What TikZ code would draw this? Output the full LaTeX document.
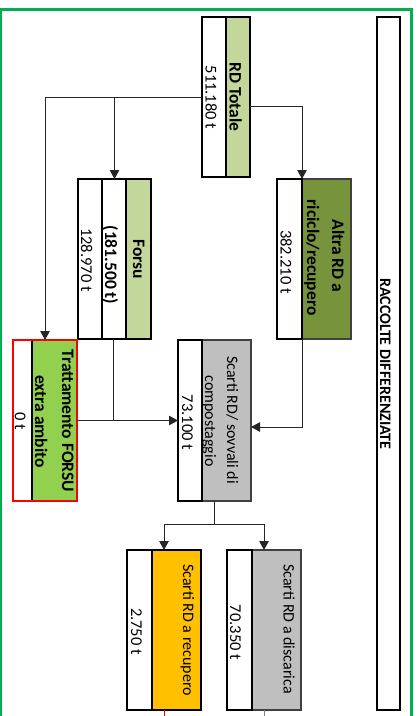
\documentclass[tikz,border=0pt]{standalone}
\usepackage{fontspec}
\setmainfont{Carlito}
\usetikzlibrary{arrows.meta,calc}
\definecolor{lgreen}{HTML}{C4D79B}
\definecolor{dgreen}{HTML}{77933C}
\definecolor{tgreen}{HTML}{92D050}
\definecolor{ambra}{HTML}{FFC000}
\definecolor{grigio}{HTML}{BFBFBF}
\definecolor{cornice}{HTML}{00B050}
\definecolor{bordo}{HTML}{404040}
\definecolor{linea}{HTML}{262626}
\begin{document}
\begin{tikzpicture}[x=1pt,y=-1pt,
  holder/.style={rectangle, inner sep=0pt, outer sep=0pt, anchor=north west, draw=none},
  cell/.style={rectangle, inner sep=0pt, outer sep=0pt, anchor=north west, line width=2pt},
  wcell/.style={cell, draw=black, fill=white},
  gcell/.style={cell, draw=bordo, line width=1.6pt},
  txt/.style={rotate=-90, anchor=base, inner sep=0pt, font=\fontsize{16}{20}\selectfont},
  ntxt/.style={txt, font=\fontsize{16.5}{20}\selectfont},
  btxt/.style={txt, font=\fontsize{17.5}{21}\selectfont\bfseries},
  conn/.style={draw=linea, line width=1pt},
  arr/.style={conn, -{Triangle[width=9.5pt,length=9pt]}},
]
\useasboundingbox (0,0) rectangle (419,716);
\fill[white] (0,0) rectangle (419,716);
\draw[cornice, line width=2.4pt] (1.2,716) -- (1.2,9.5) -- (411.5,9.5) -- (411.5,716);

% RACCOLTE DIFFERENZIATE
\node[wcell, minimum width=23pt, minimum height=693pt] (racc) at (377,17) {};
\node[btxt, font=\fontsize{16}{19}\selectfont\bfseries] (tRa) at (380,364) {RACCOLTE DIFFERENZIATE};

% RD Totale
\node[holder, minimum width=48pt, minimum height=160pt] (rdt) at (202,17) {};
\node[cell, draw=black, fill=lgreen, minimum width=24pt, minimum height=160pt] (rdtG) at (226,17) {};
\node[wcell, minimum width=24pt, minimum height=160pt] (rdtW) at (202,17) {};
\node[btxt] (tRD) at (229.5,97) {RD Totale};
\node[ntxt] (tRDv) at (205.5,97.5) {511.180 t};

% Forsu
\node[holder, minimum width=73pt, minimum height=160pt] (forsu) at (78,179) {};
\node[cell, draw=black, fill=lgreen, minimum width=25pt, minimum height=160pt] (forsuG) at (126,179) {};
\node[wcell, minimum width=24.5pt, minimum height=160pt] (forsuM) at (101.5,179) {};
\node[wcell, minimum width=23.5pt, minimum height=160pt] (forsuW) at (78,179) {};
\node[btxt] (tFo) at (133,259) {Forsu};
\node[btxt] (tFo2) at (105,265) {(181.500 t)};
\node[ntxt] (tFov) at (81,260) {128.970 t};

% Altra RD
\node[holder, minimum width=74pt, minimum height=160pt] (altra) at (277,179) {};
\node[gcell, fill=dgreen, minimum width=49pt, minimum height=160pt] (altraG) at (302,179) {};
\node[wcell, minimum width=25pt, minimum height=160pt] (altraW) at (277,179) {};
\node[btxt] (tAl1) at (332,256) {Altra RD a};
\node[btxt] (tAl2) at (307,257.5) {riciclo/recupero};
\node[ntxt] (tAlv) at (280.5,262) {382.210 t};

% Trattamento FORSU
\node[holder, minimum width=64pt, minimum height=161pt] (trat) at (13,340) {};
\node[cell, draw=none, fill=tgreen, minimum width=45pt, minimum height=161pt] (tratG) at (32,340) {};
\node[wcell, minimum width=19pt, minimum height=161pt] (tratW) at (13,340) {};
\draw[red, line width=2pt] (trat.north west) rectangle (trat.south east);
\node[btxt] (tTr1) at (62,421) {Trattamento FORSU};
\node[btxt] (tTr2) at (35,421.5) {extra ambito};
\node[ntxt] (tTrv) at (15,421.5) {0 t};

% Scarti RD / sovvali
\node[holder, minimum width=73pt, minimum height=161pt] (sov) at (178,340) {};
\node[gcell, fill=grigio, minimum width=49.5pt, minimum height=161pt] (sovG) at (201.5,340) {};
\node[wcell, minimum width=23.5pt, minimum height=161pt] (sovW) at (178,340) {};
\node[txt] (tSo1) at (227,420) {Scarti RD/ sovvali di};
\node[txt] (tSo2) at (205,421) {compostaggio};
\node[ntxt] (tSov) at (182,422.5) {73.100 t};

% Scarti RD a recupero
\node[holder, minimum width=74pt, minimum height=160pt] (rec) at (127,550) {};
\node[cell, draw=black, fill=ambra, minimum width=49pt, minimum height=160pt] (recG) at (152,550) {};
\node[wcell, minimum width=25pt, minimum height=160pt] (recW) at (127,550) {};
\node[txt] (tRe) at (183,630) {Scarti RD a recupero};
\node[ntxt] (tRev) at (131,631.5) {2.750 t};

% Scarti RD a discarica
\node[holder, minimum width=74pt, minimum height=160pt] (dis) at (227,550) {};
\node[gcell, fill=grigio, minimum width=49.5pt, minimum height=160pt] (disG) at (251.5,550) {};
\node[wcell, minimum width=24.5pt, minimum height=160pt] (disW) at (227,550) {};
\node[txt] (tDi) at (283.5,629) {Scarti RD a discarica};
\node[ntxt] (tDiv) at (230,632.5) {70.350 t};

% connectors
\draw[arr] (rdt.west) -| (trat.north);
\draw[arr] (rdt.west) -| (forsu.north);
\draw[arr] ($(rdt.east)+(0,9)$) -| (altraG.north west);
\draw[conn] (trat.east) -- (sov.west);
\draw[arr] (forsuM.south) |- (sov.west);
\draw[arr] (altraG.south west) |- ($(sov.east)+(0,6.5)$);
\draw[conn] (sov.south) -- ++(0,23) coordinate (split);
\draw[arr] (split) -| (rec.north);
\draw[arr] (split) -| (dis.north);
\coordinate (recOut) at (164,716);
\coordinate (disOut) at (265,716);
\draw[red, line width=1pt] (rec.south) -- (recOut);
\draw[draw=gray, line width=1pt] (dis.south) -- (dis.south |- disOut);
\end{tikzpicture}
\end{document}
